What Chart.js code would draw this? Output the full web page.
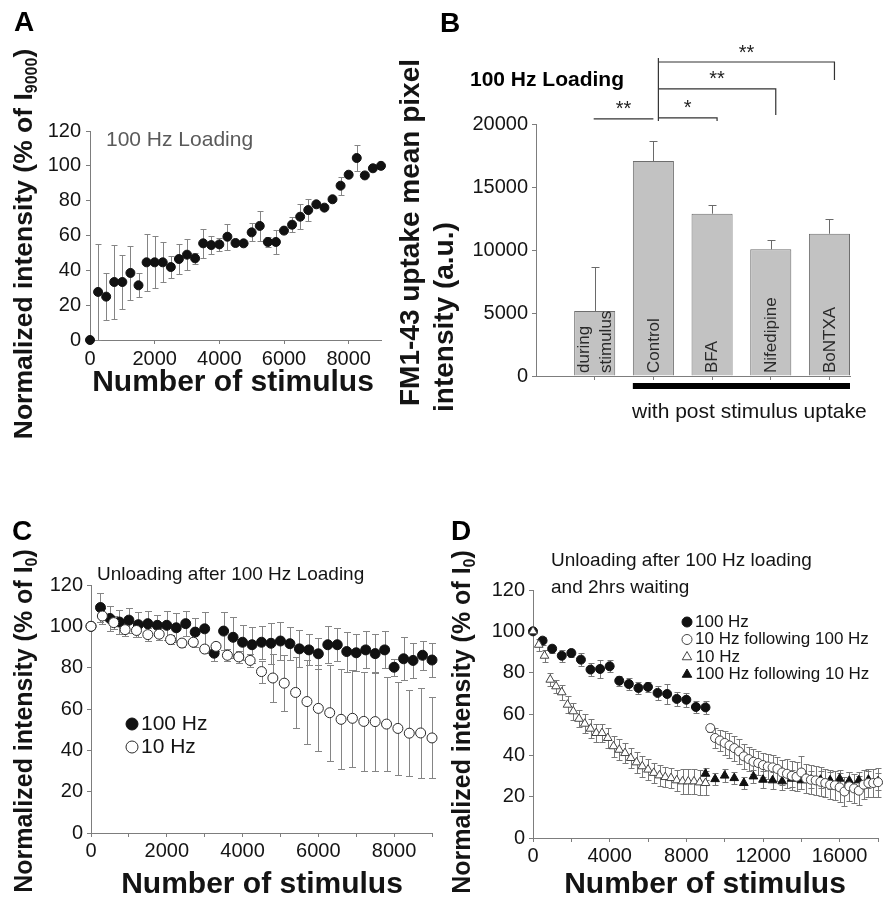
<!DOCTYPE html>
<html>
<head>
<meta charset="utf-8">
<script src="https://cdn.jsdelivr.net/npm/chart.js@4.4.0/dist/chart.umd.min.js"></script>
<style>
  body { margin: 0; background: #fff; }
  #quadro { position: relative; width: 893px; height: 900px; }
  #quadro canvas { position: absolute; left: 0; top: 0; }
</style>
</head>
<body>
<div id="quadro">
  <canvas id="graficoA" width="893" height="900"></canvas>
  <canvas id="graficoB" width="893" height="900"></canvas>
  <canvas id="graficoC" width="893" height="900"></canvas>
  <canvas id="graficoD" width="893" height="900"></canvas>
</div>
<script>
// ---- dados ----
// A: carregamento 100 Hz
const estimulosA = [0,250,500,750,1000,1250,1500,1750,2000,2250,2500,2750,3000,3250,3500,3750,4000,4250,4500,4750,5000,5250,5500,5750,6000,6250,6500,6750,7000,7250,7500,7750,8000,8250,8500,8750,9000];
const intensidadeA = [0,27.6,24.9,33.3,33.3,38.5,31.4,44.6,44.6,44.6,41.9,46.5,49,46.9,55.5,54.5,54.9,59.3,55.7,55.5,61.8,65.5,56.3,56.3,62.8,66.2,70.8,74.6,77.9,76,80.8,88.6,94.9,104.5,94.5,98.6,100];
const erroA = [0,27.5,13.5,21,15.5,15.6,6.8,16.5,15,11.5,6.4,8.5,9,3,8.5,5.2,3.6,7.5,0,0,5.2,8.4,3,7,0,4.3,7.3,6.1,0,0,0,5.1,0,7.3,0,0,0];
const ticksXA = [0,2000,4000,6000,8000];
const ticksY = [0,20,40,60,80,100,120];

// B: captacao de FM1-43
const gruposB = [['during', 'stimulus'], ['Control'], ['BFA'], ['Nifedipine'], ['BoNTXA']];
const posB = [1,2,3,4,5];
const mediaB = [5160,17060,12880,10050,11290];
const erroB = [3500,1600,700,730,1160];
const ticksYB = [0,5000,10000,15000,20000];
// colchetes de significancia: indices das barras e altura em unidades do eixo
const colchetesB = [
  { de: 0, ate: 1, nivel: 20400, marca: '**' },
  { de: 1, ate: 2, nivel: 20480, marca: '*' },
  { de: 1, ate: 3, nivel: 22780, marca: '**' },
  { de: 1, ate: 4, nivel: 24920, marca: '**' }
];

// C: descarregamento apos carga de 100 Hz
const estimulosC100 = [0,250,500,750,1000,1250,1500,1750,2000,2250,2500,2750,3000,3250,3500,3750,4000,4250,4500,4750,5000,5250,5500,5750,6000,6250,6500,6750,7000,7250,7500,7750,8000,8250,8500,8750,9000];
const intensidadeC100 = [100,109.1,103.8,102.1,103,100.8,101.3,100.5,100.5,99.3,101.3,97.2,98.8,87,97.7,94.7,92.3,91.1,92.3,91.8,92.9,91.6,89.1,88.6,86.7,91.1,91.1,87.8,87.2,88.6,86.8,88.6,80.2,84.3,83.5,86,83.7];
const erroC100 = [0,7,6,6,6,6,6,5,7,7,6,7,8,4,9,10,8.5,8.6,8,10,9,8,9,7.5,7.5,9,8,9.7,9,9,9.6,9,4,10.4,8.4,7,8];
const estimulosC10 = [0,300,600,900,1200,1500,1800,2100,2400,2700,3000,3300,3600,3900,4200,4500,4800,5100,5400,5700,6000,6300,6600,6900,7200,7500,7800,8100,8400,8700,9000];
const intensidadeC10 = [100,105,101.8,98.4,98,96,96.2,93.6,91.9,92.3,89,90.3,86,85.2,83.5,78.1,75,72.5,68,63.6,60.3,58.2,55,55.5,54,53.9,52.7,50.6,48.3,48.4,46];
const erroC10 = [0,4,3,3,3,3,3,2,2,2,2,2,3,3,3,5.3,11.6,13.7,17.4,20.3,20.8,23.3,24.2,23.4,23.9,23.8,22.8,22.3,20.8,21.7,19.6];
const ticksXC = [0,1000,2000,3000,4000,5000,6000,7000,8000,9000];
const rotulosXC = [0,2000,4000,6000,8000];

// D: descarregamento apos carga de 100 Hz e 2 h de espera
const estimulosD100 = [0,500,1000,1500,2000,2500,3000,3500,4000,4500,5000,5500,6000,6500,7000,7500,8000,8500,9000];
const intensidadeD100 = [100,95.5,91.6,88.2,89.5,86.3,81.5,81.8,83.1,76.1,74.5,72.6,73.1,70.2,69.7,67.3,66.9,63.4,63.2];
const erroD100 = [0,2,2,3,2,3,3,4.5,3,2.5,3,3,2.5,3.5,5,3.5,3.5,3,3];
const estimulosD10 = [0,300,600,900,1200,1500,1800,2100,2400,2700,3000,3300,3600,3900,4200,4500,4800,5100,5400,5700,6000,6300,6600,6900,7200,7500,7800,8100,8400,8700,9000];
const intensidadeD10 = [100,93.5,88.2,76.6,73.4,70.5,64.5,61.3,57.7,55.3,52.9,50.8,50.8,48.4,44.4,42.7,41.1,38.7,36.6,34.7,33.1,31.5,30.3,29.5,29,27.9,27.4,27.4,27.4,26.9,26.6];
const erroD10 = [0,3,3,3,3,3.5,4,4,4,4.5,4.5,4.5,4.5,5,5,5,5,5,5,5,5,5,5,5,5,5,6,6,6,6,6];
const estimulosD10p100 = [9250,9500,9750,10000,10250,10500,10750,11000,11250,11500,11750,12000,12250,12500,12750,13000,13250,13500,13750,14000,14250,14500,14750,15000,15250,15500,15750,16000,16250,16500,16750,17000,17250,17500,17750,18000];
const intensidadeD10p100 = [53.2,48.4,47.2,46,44.8,43.5,41.9,39.5,38.2,36.9,36.3,35.3,34.6,34.2,33.4,31.7,31.1,30.1,29.6,31.7,28.8,28.2,27.9,27.2,26.6,25.8,25.5,24.5,22.5,25,24,22.9,25.8,26.6,26.6,27];
const erroD10p100 = [2,5,5,6,6,6,6,6,6,6,6,6,6,6,6,6,7,7,7,8,7,7,7,7,7,7,7,7,7,7,7,7,7,7,7,7];
const estimulosD100p10 = [9000,9500,10000,10500,11000,11500,12000,12500,13000,13500,14000,14500,15000,15500,16000,16500,17000,17500,18000];
const intensidadeD100p10 = [31.1,28.5,30.2,29,26.6,29.8,28.2,27.9,27.4,28.7,27.9,28.2,28.2,27.9,28.7,27.7,27.9,28.2,27.4];
const erroD100p10 = [3,3,3,3,3,3,4,4,4,4,4,4,4,4,4,4,4,4,4];
const ticksXD = [0,2000,4000,6000,8000,10000,12000,14000,16000,18000];
const rotulosXD = [0,4000,8000,12000,16000];

// ---- estilo ----
const FONTE = "'Liberation Sans', Arial, Helvetica, sans-serif";
const LARG = 893, ALT = 900;
const COR_EIXO = '#7d7d7d';
const COR_TEXTO = '#141414';

function pares(xs, ys) {
  return xs.map((x, i) => ({ x: x, y: ys[i] }));
}

function eixo(cfg) {
  return {
    type: 'linear',
    min: cfg.min,
    max: cfg.max,
    offset: false,
    afterBuildTicks: s => { s.ticks = cfg.ticks.map(v => ({ value: v })); },
    afterFit: s => { if (cfg.horizontal) s.height = cfg.tamanho; else s.width = cfg.tamanho; },
    grid: { display: true, offset: false, drawOnChartArea: false, drawTicks: true, tickLength: 4, color: COR_EIXO },
    border: { display: true, color: COR_EIXO, width: 1 },
    ticks: {
      autoSkip: false, maxRotation: 0, padding: cfg.pad == null ? 4 : cfg.pad,
      color: COR_TEXTO, font: { family: FONTE, size: 20 },
      callback: v => (cfg.rotulos ? (cfg.rotulos.includes(v) ? String(v) : '') : String(v))
    }
  };
}

function layout(area) {
  return { padding: { left: 0, top: area.topo, right: LARG - area.dir, bottom: ALT - area.base - 40 } };
}

// texto livre, com suporte a subscrito e rotacao
function desenharTexto(ctx, it) {
  const partes = typeof it.texto === 'string' ? [{ t: it.texto }] : it.texto;
  const tam = it.tam || 20;
  const peso = it.peso || 'normal';
  const fonteDe = p => `${peso} ${p.sub ? Math.round(tam * 0.62) : tam}px ${FONTE}`;
  ctx.save();
  ctx.translate(it.x, it.y);
  if (it.rot) ctx.rotate(it.rot);
  let total = 0;
  partes.forEach(p => { ctx.font = fonteDe(p); p.w = ctx.measureText(p.t).width; total += p.w; });
  let x = it.align === 'center' ? -total / 2 : (it.align === 'right' ? -total : 0);
  ctx.fillStyle = it.cor || COR_TEXTO;
  ctx.textAlign = 'left';
  ctx.textBaseline = 'middle';
  partes.forEach(p => {
    ctx.font = fonteDe(p);
    ctx.fillText(p.t, x, p.sub ? tam * 0.3 : 0);
    x += p.w;
  });
  ctx.restore();
}

const textos = {
  id: 'textos',
  afterDraw(chart, args, opts) {
    (opts.itens || []).forEach(it => desenharTexto(chart.ctx, it));
  }
};

const barrasErro = {
  id: 'barrasErro',
  beforeDatasetsDraw(chart, args, opts) {
    const ctx = chart.ctx;
    chart.data.datasets.forEach((ds, i) => {
      if (!ds.erro) return;
      const meta = chart.getDatasetMeta(i);
      const escY = chart.scales[meta.yAxisID];
      const aba = ds.abaErro || 3;
      ctx.save();
      ctx.strokeStyle = ds.corErro || '#888';
      ctx.lineWidth = 1;
      meta.data.forEach((el, j) => {
        const e = ds.erro[j];
        if (!e) return;
        const v = ds.data[j].y;
        const x = Math.round(el.x) + 0.5;
        const yCima = Math.round(escY.getPixelForValue(v + e)) + 0.5;
        const yBaixo = ds.soCima ? el.y : Math.round(escY.getPixelForValue(v - e)) + 0.5;
        ctx.beginPath();
        ctx.moveTo(x, yCima); ctx.lineTo(x, yBaixo);
        ctx.moveTo(x - aba, yCima); ctx.lineTo(x + aba, yCima);
        if (!ds.soCima) { ctx.moveTo(x - aba, yBaixo); ctx.lineTo(x + aba, yBaixo); }
        ctx.stroke();
      });
      ctx.restore();
    });
  }
};

// legenda desenhada dentro da area do grafico
const legendaLivre = {
  id: 'legendaLivre',
  afterDraw(chart, args, opts) {
    if (!opts.itens) return;
    const ctx = chart.ctx;
    opts.itens.forEach(it => {
      const ds = chart.data.datasets[it.ds];
      ctx.save();
      ctx.fillStyle = ds.backgroundColor;
      ctx.strokeStyle = ds.borderColor;
      ctx.lineWidth = ds.borderWidth;
      Chart.helpers.drawPoint(ctx, { pointStyle: ds.pointStyle, rotation: 0, radius: it.raio, borderWidth: ds.borderWidth }, it.x, it.y);
      ctx.restore();
      desenharTexto(ctx, { texto: ds.label, x: it.x + it.raio + 3, y: it.y, tam: opts.tam, align: 'left' });
    });
  }
};

function serie(rotulo, xs, ys, erros, estilo) {
  return Object.assign({
    label: rotulo,
    data: pares(xs, ys),
    erro: erros,
    showLine: false,
    clip: false,
    pointStyle: 'circle',
    pointRadius: 4.5,
    pointHoverRadius: 4.5,
    borderWidth: 1,
    backgroundColor: '#111',
    borderColor: '#111',
    corErro: '#858585',
    abaErro: 3
  }, estilo);
}

const tituloY = (sub, x, y, tam) => ({
  texto: [{ t: 'Normalized intensity (% of I' }, { t: sub, sub: true }, { t: ')' }],
  x: x, y: y, rot: -Math.PI / 2, tam: tam, peso: 'bold', align: 'center'
});
const tituloX = (x, y) => ({ texto: 'Number of stimulus', x: x, y: y, tam: 30, peso: 'bold', align: 'center' });
const letra = (l, x, y) => ({ texto: l, x: x, y: y, tam: 28, peso: 'bold', cor: '#000' });

Chart.defaults.font.family = FONTE;
Chart.defaults.animation = false;

// ---- painel A ----
const areaA = { esq: 90, dir: 381, topo: 131, base: 340 };
new Chart(document.getElementById('graficoA'), {
  type: 'scatter',
  data: { datasets: [serie('100 Hz Loading', estimulosA, intensidadeA, erroA, {})] },
  options: {
    responsive: false,
    layout: layout(areaA),
    plugins: {
      legend: { display: false }, tooltip: { enabled: false },
      textos: { itens: [
        letra('A', 14, 23),
        tituloY('9000', 25, 244, 26.5),
        tituloX(233, 383),
        { texto: '100 Hz Loading', x: 106, y: 140, tam: 21, cor: '#5a5a5a' }
      ] }
    },
    scales: {
      x: eixo({ min: 0, max: 9000, ticks: ticksXA, horizontal: true, tamanho: 40, pad: 3 }),
      y: eixo({ min: 0, max: 120, ticks: ticksY, tamanho: areaA.esq, pad: 5 })
    }
  },
  plugins: [barrasErro, textos]
});

// ---- painel B ----
const areaB = { esq: 536, dir: 850, topo: 124, base: 376 };

const rotulosBarras = {
  id: 'rotulosBarras',
  afterDatasetsDraw(chart) {
    const meta = chart.getDatasetMeta(0);
    const baseY = chart.chartArea.bottom - 3;
    meta.data.forEach((el, i) => {
      const linhas = gruposB[i];
      linhas.forEach((txt, k) => {
        const dx = (k - (linhas.length - 1) / 2) * 21.5;
        desenharTexto(chart.ctx, { texto: txt, x: el.x + dx + 0.5, y: baseY, rot: -Math.PI / 2, tam: 17, cor: '#2a2a2a' });
      });
    });
    // faixa preta sob os grupos com captacao pos-estimulo
    const a = meta.data[1], b = meta.data[meta.data.length - 1];
    chart.ctx.fillStyle = '#000';
    chart.ctx.fillRect(a.x - a.width / 2, 383, (b.x + b.width / 2) - (a.x - a.width / 2), 6);
  }
};

const colchetes = {
  id: 'colchetes',
  afterDraw(chart) {
    const ctx = chart.ctx;
    const meta = chart.getDatasetMeta(0);
    const y = chart.scales.y;
    ctx.save();
    ctx.strokeStyle = '#333';
    ctx.lineWidth = 1.2;
    colchetesB.forEach(c => {
      const x1 = c.de === 0 ? meta.data[0].x - 1 : meta.data[c.de].x + 5;
      const x2 = c.de === 0 ? meta.data[c.ate].x : meta.data[c.ate].x + 5;
      const yl = y.getPixelForValue(c.nivel);
      ctx.beginPath();
      ctx.moveTo(x1, yl); ctx.lineTo(x2, yl);
      if (c.de !== 0) {
        const perna = c.ate === 2 ? 3 : (c.ate === 3 ? 26 : 18);
        ctx.lineTo(x2, yl + perna);
      }
      ctx.stroke();
      desenharTexto(ctx, { texto: c.marca, x: (x1 + x2) / 2, y: yl - 9, tam: 20, align: 'center', cor: '#222' });
    });
    // perna comum sobre o controle
    const xc = meta.data[1].x + 5;
    ctx.beginPath();
    ctx.moveTo(xc, y.getPixelForValue(25240));
    ctx.lineTo(xc, y.getPixelForValue(20240));
    ctx.stroke();
    ctx.restore();
  }
};

new Chart(document.getElementById('graficoB'), {
  type: 'bar',
  data: { datasets: [{
    label: 'FM1-43',
    data: pares(posB, mediaB),
    erro: erroB,
    soCima: true,
    abaErro: 4,
    corErro: '#6a6a6a',
    backgroundColor: '#c2c2c2',
    borderColor: '#6e6e6e',
    borderWidth: 1,
    barPercentage: 0.7,
    categoryPercentage: 1
  }] },
  options: {
    responsive: false,
    layout: layout(areaB),
    plugins: {
      legend: { display: false }, tooltip: { enabled: false },
      textos: { itens: [
        letra('B', 440, 24),
        { texto: '100 Hz Loading', x: 470, y: 80, tam: 21, peso: 'bold', cor: '#000' },
        { texto: 'FM1-43 uptake mean pixel', x: 411, y: 406, rot: -Math.PI / 2, tam: 28, peso: 'bold' },
        { texto: 'intensity (a.u.)', x: 445, y: 412, rot: -Math.PI / 2, tam: 28, peso: 'bold' },
        { texto: 'with post stimulus uptake', x: 632, y: 412, tam: 21 }
      ] }
    },
    scales: {
      x: eixo({ min: 0, max: 5.35, ticks: posB, rotulos: [], horizontal: true, tamanho: 40 }),
      y: eixo({ min: 0, max: 20000, ticks: ticksYB, tamanho: areaB.esq, pad: 4 })
    }
  },
  plugins: [barrasErro, rotulosBarras, colchetes, textos]
});

// ---- painel C ----
const areaC = { esq: 91, dir: 432, topo: 585, base: 833 };
new Chart(document.getElementById('graficoC'), {
  type: 'scatter',
  data: { datasets: [
    serie('10 Hz', estimulosC10, intensidadeC10, erroC10, { backgroundColor: '#fff', borderColor: '#2a2a2a', pointRadius: 5, abaErro: 3.5 }),
    serie('100 Hz', estimulosC100, intensidadeC100, erroC100, { pointRadius: 5, abaErro: 3.5 })
  ] },
  options: {
    responsive: false,
    layout: layout(areaC),
    plugins: {
      legend: { display: false }, tooltip: { enabled: false },
      legendaLivre: { tam: 21, itens: [ { ds: 1, x: 132, y: 724, raio: 6 }, { ds: 0, x: 132, y: 747, raio: 6 } ] },
      textos: { itens: [
        letra('C', 12, 532),
        tituloY('0', 25, 721, 25),
        tituloX(262, 885),
        { texto: 'Unloading after 100 Hz Loading', x: 97, y: 575, tam: 19 }
      ] }
    },
    scales: {
      x: eixo({ min: 0, max: 9000, ticks: ticksXC, rotulos: rotulosXC, horizontal: true, tamanho: 40, pad: 2 }),
      y: eixo({ min: 0, max: 120, ticks: ticksY, tamanho: areaC.esq, pad: 4 })
    }
  },
  plugins: [barrasErro, legendaLivre, textos]
});

// ---- painel D ----
const areaD = { esq: 533, dir: 878, topo: 590, base: 838 };
new Chart(document.getElementById('graficoD'), {
  type: 'scatter',
  data: { datasets: [
    serie('10 Hz', estimulosD10, intensidadeD10, erroD10, { pointStyle: 'triangle', pointRadius: 5, backgroundColor: '#fff', borderColor: '#444', corErro: '#777' }),
    serie('100 Hz', estimulosD100, intensidadeD100, erroD100, { corErro: '#777' }),
    serie('10 Hz following 100 Hz', estimulosD10p100, intensidadeD10p100, erroD10p100, { backgroundColor: '#fff', borderColor: '#444', corErro: '#777' }),
    serie('100 Hz following 10 Hz', estimulosD100p10, intensidadeD100p10, erroD100p10, { pointStyle: 'triangle', pointRadius: 5, corErro: '#777' })
  ] },
  options: {
    responsive: false,
    layout: layout(areaD),
    plugins: {
      legend: { display: false }, tooltip: { enabled: false },
      legendaLivre: { tam: 17, itens: [
        { ds: 1, x: 687, y: 622, raio: 5 },
        { ds: 2, x: 687, y: 639.5, raio: 5 },
        { ds: 0, x: 687, y: 657, raio: 5.5 },
        { ds: 3, x: 687, y: 674.5, raio: 5.5 }
      ] },
      textos: { itens: [
        letra('D', 451, 532),
        tituloY('0', 463, 722, 25),
        tituloX(705, 885),
        { texto: 'Unloading after 100 Hz loading', x: 551, y: 561, tam: 19 },
        { texto: 'and 2hrs waiting', x: 551, y: 588, tam: 19 }
      ] }
    },
    scales: {
      x: eixo({ min: 0, max: 18000, ticks: ticksXD, rotulos: rotulosXD, horizontal: true, tamanho: 40, pad: 2 }),
      y: eixo({ min: 0, max: 120, ticks: ticksY, tamanho: areaD.esq, pad: 4 })
    }
  },
  plugins: [barrasErro, legendaLivre, textos]
});
</script>
</body>
</html>
